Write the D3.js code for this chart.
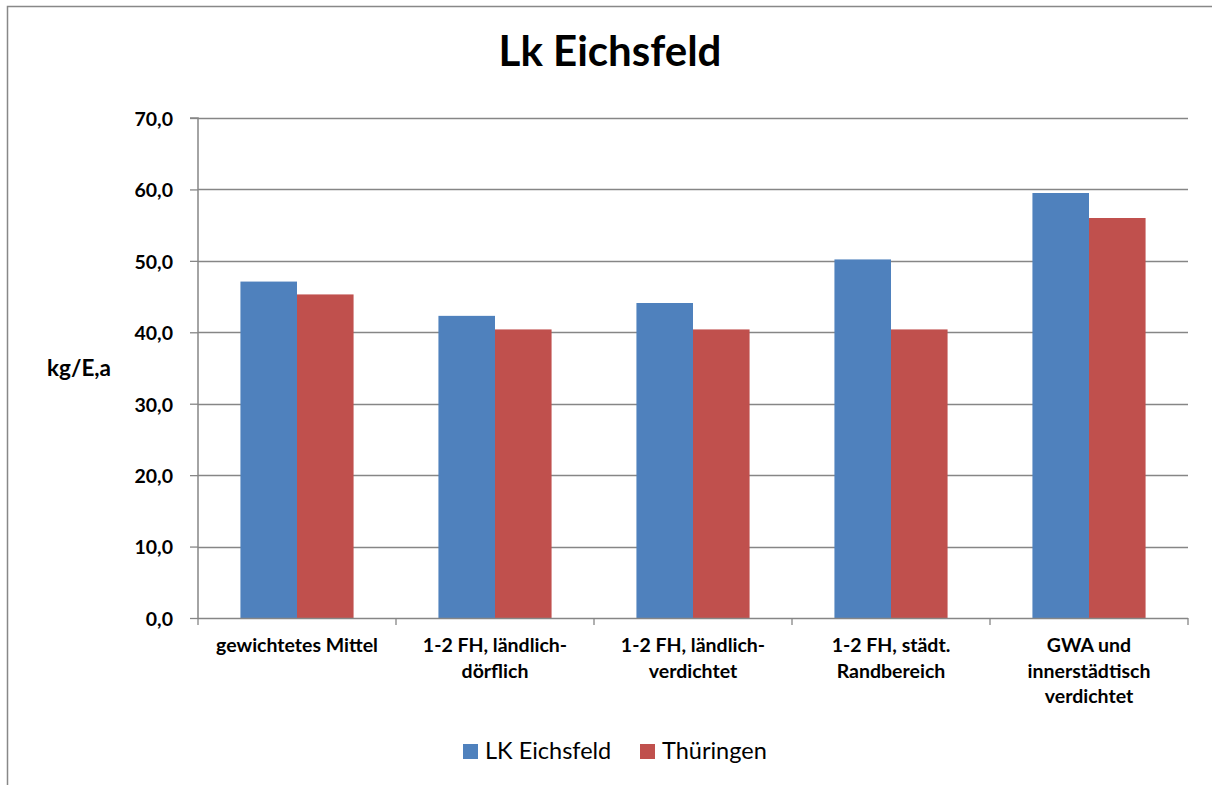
<!DOCTYPE html>
<html><head><meta charset="utf-8">
<script src="https://cdn.jsdelivr.net/npm/d3@7"></script>
<style>body{margin:0;background:#fff}svg{display:block}</style>
</head><body>
<script>
const categories = [["gewichtetes Mittel"],["1-2 FH, ländlich-","dörflich"],["1-2 FH, ländlich-","verdichtet"],["1-2 FH, städt.","Randbereich"],["GWA und","innerstädtisch","verdichtet"]];
const seriesNames = ["LK Eichsfeld","Thüringen"];
const eichsfeld = [47.1, 42.3, 44.1, 50.2, 59.5];
const thueringen = [45.3, 40.4, 40.4, 40.4, 56.0];
const yTicks = [0,10,20,30,40,50,60,70];
const colors = ["#4F81BD","#C0504D"];
const title = "Lk Eichsfeld";
const yTitle = "kg/E,a";

const W=1212,H=785;
const font = "Lato, 'Open Sans', sans-serif";
const svg = d3.select("body").append("svg").attr("width",W).attr("height",H);
svg.append("rect").attr("x",7.5).attr("y",6.5).attr("width",W).attr("height",H).attr("fill","#fff").attr("stroke","#888").attr("stroke-width",1.5);

const L=198,R=1188,T=118,B=618;
const y = d3.scaleLinear().domain([0,70]).range([B,T]);
const x0 = d3.scaleBand().domain(d3.range(categories.length)).range([L,R]).paddingInner(0).paddingOuter(0);
const bw = x0.bandwidth()/3.5;
const x1 = d3.scaleBand().domain([0,1]).range([0.75*bw, 2.75*bw]);

// gridlines
svg.append("g").selectAll("line").data(yTicks.filter(d=>d>0)).join("line")
  .attr("x1",L).attr("x2",R).attr("y1",d=>Math.round(y(d))+0.5).attr("y2",d=>Math.round(y(d))+0.5)
  .attr("stroke","#868686").attr("stroke-width",1.3);

// bars
const data = [eichsfeld, thueringen];
const g = svg.append("g");
data.forEach((vals,si)=>{
  g.selectAll(null).data(vals).join("rect")
    .attr("x",(d,i)=>x0(i)+x1(si))
    .attr("y",d=>y(d))
    .attr("width",x1.bandwidth())
    .attr("height",d=>B-y(d))
    .attr("fill",colors[si]);
});

// y axis
const yAxis = d3.axisLeft(y).tickValues(yTicks).tickSize(8).tickPadding(17)
  .tickFormat(d=>d3.format(".1f")(d).replace(".",","));
const ya = svg.append("g").attr("transform",`translate(${L},0)`).call(yAxis);
ya.select(".domain").attr("stroke","#868686").attr("stroke-width",1.5).attr("d",`M-8,${T}H0V${B}`);
ya.selectAll(".tick line").attr("stroke","#868686").attr("stroke-width",1.3);
ya.selectAll(".tick text").attr("font-family",font).attr("font-weight","bold").attr("font-size",19.5).attr("fill","#000").attr("dy","0.38em");

// x axis
const xa = svg.append("g");
xa.append("line").attr("x1",L).attr("x2",R).attr("y1",B+0.5).attr("y2",B+0.5).attr("stroke","#868686").attr("stroke-width",1.5);
xa.selectAll(".xt").data(d3.range(categories.length+1)).join("line")
  .attr("x1",i=>L+i*x0.step()).attr("x2",i=>L+i*x0.step()).attr("y1",B).attr("y2",B+7)
  .attr("stroke","#868686").attr("stroke-width",1.3);
categories.forEach((lines,i)=>{
  const t = xa.append("text").attr("x",x0(i)+x0.bandwidth()/2).attr("y",652)
    .attr("text-anchor","middle").attr("font-family",font).attr("font-weight","bold").attr("font-size",19.5).attr("fill","#000");
  lines.forEach((ln,k)=>t.append("tspan").attr("x",x0(i)+x0.bandwidth()/2).attr("dy",k?25.5:0).text(ln));
});

// title
svg.append("text").attr("x",610).attr("y",66).attr("text-anchor","middle").attr("font-family",font)
  .attr("font-weight","bold").attr("font-size",42).attr("fill","#000").text(title);
// y title
svg.append("text").attr("x",79).attr("y",376).attr("text-anchor","middle").attr("font-family",font)
  .attr("font-weight","bold").attr("font-size",22.5).attr("fill","#000").text(yTitle);

// legend
const legX=[463,640];
seriesNames.forEach((n,i)=>{
  svg.append("rect").attr("x",legX[i]).attr("y",744).attr("width",15).attr("height",15).attr("fill",colors[i]);
  svg.append("text").attr("x",legX[i]+22).attr("y",759).attr("font-family",font).attr("font-size",23.5).attr("fill","#000").text(n);
});
</script>
</body></html>
